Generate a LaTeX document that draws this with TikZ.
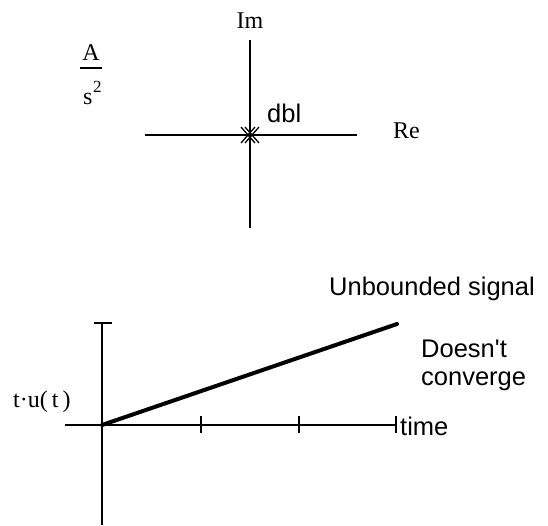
\documentclass[tikz,border=0pt]{standalone}
\usepackage{fontspec}
\setmainfont{Liberation Serif}
\newfontfamily\arialf{Liberation Sans}
\tikzset{
  axis/.style={line width=1.5pt, line cap=butt},
  sig/.style={line width=4pt, line cap=round},
  serlbl/.style={inner sep=0pt, font=\fontsize{24}{28}\selectfont},
  sanlbl/.style={inner sep=0pt, font=\arialf\fontsize{25.5}{30}\selectfont},
}
\begin{document}
\begin{tikzpicture}[x=1pt,y=-1pt]
\useasboundingbox (0,0) rectangle (548,525);
% pole-zero plot
\coordinate (imtop) at (250,40);
\coordinate (imbot) at (250,228);
\coordinate (releft) at (145,135);
\coordinate (reright) at (357,135);
\draw[axis] (imtop) -- (imbot);
\draw[axis] (releft) -- (reright);
\coordinate (p1) at (248,135);
\coordinate (p2) at (252,135);
\draw[line width=1.3pt] ([shift={(-7,-8)}]p1) -- ([shift={(7,8)}]p1) ([shift={(-7,8)}]p1) -- ([shift={(7,-8)}]p1);
\draw[line width=1.3pt] ([shift={(-7,-8)}]p2) -- ([shift={(7,8)}]p2) ([shift={(-7,8)}]p2) -- ([shift={(7,-8)}]p2);
\node[serlbl, anchor=base] (im) at (250,28) {Im};
\node[serlbl, anchor=base west] (re) at (393,138) {Re};
\node[sanlbl, anchor=base west] (dbl) at (267,122) {dbl};
% A/s^2
\node[serlbl, anchor=base] (A) at (91,60) {A};
\coordinate (barl) at (80,68);
\coordinate (barr) at (102,68);
\draw[line width=1.2pt] (barl) -- (barr);
\node[serlbl, anchor=base west] (s) at (83,104) {s};
\node[inner sep=0pt, anchor=base west, font=\fontsize{17}{20}\selectfont] (two) at (93,92) {2};
% time plot
\coordinate (o) at (102,425);
\coordinate (vtop) at (102,323);
\coordinate (vbot) at (102,525);
\coordinate (hleft) at (65,425);
\coordinate (hright) at (396,425);
\draw[axis] (vtop) -- (vbot);
\draw[axis] (94,323) -- (112,323);
\draw[axis] (hleft) -- (hright);
\draw[axis] (201,416) -- (201,433);
\draw[axis] (299,416) -- (299,433);
\draw[axis] (396,416) -- (396,433);
\coordinate (send) at (397,324);
\draw[sig] (o) -- (send);
\node[serlbl, anchor=base west] (tu) at (13,407) {t·u(\,t\,)};
\node[sanlbl, anchor=base west] (time) at (400,435) {time};
\node[sanlbl, anchor=base west] (doesnt) at (421,357) {Doesn't};
\node[sanlbl, anchor=base west] (conv) at (421,385) {converge};
\node[sanlbl, anchor=base west] (unb) at (329,295) {Unbounded signal};
\end{tikzpicture}
\end{document}
